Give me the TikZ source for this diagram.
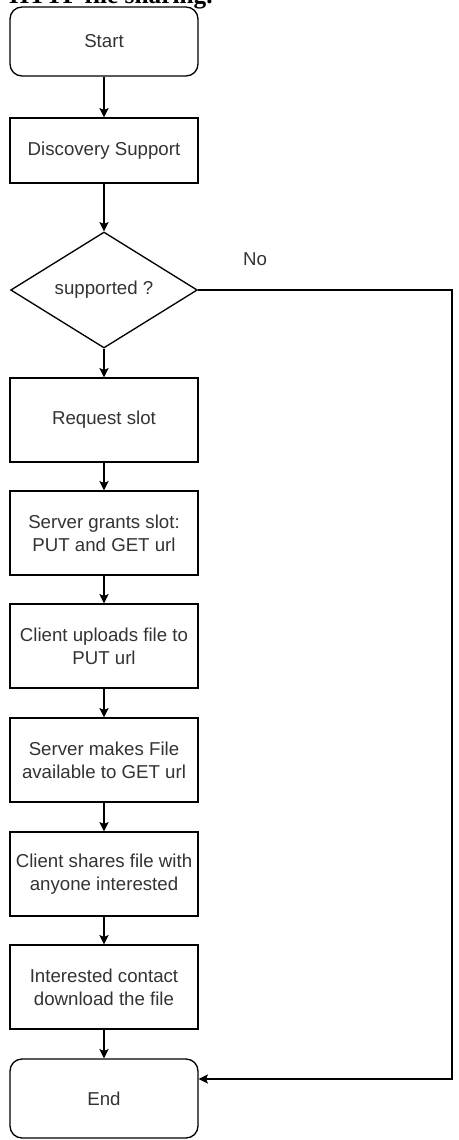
\documentclass[tikz,border=0pt]{standalone}
\usepackage{fontspec}
\setmainfont{Liberation Sans}
\newfontfamily\titlefont{Liberation Serif}
\usetikzlibrary{shapes.geometric,arrows.meta}
\definecolor{txt}{HTML}{333333}
\tikzset{
  flow/.style={draw=black, line width=1pt, fill=white, text=txt,
    font=\fontsize{14}{17}\selectfont, align=center, inner sep=2pt,
    minimum width=141pt},
  procbox/.style={flow, rectangle, minimum height=63pt},
  termbox/.style={flow, rectangle, rounded corners=9pt},
  decbox/.style={flow, diamond, minimum width=140pt, minimum height=85.5pt, inner sep=0pt},
  link/.style={draw=black, line width=1pt, -{Stealth[length=7pt,width=7pt,inset=1.5pt]}},
  plainlink/.style={draw=black, line width=1pt}
}
\begin{document}
\begin{tikzpicture}[x=0.75pt, y=-0.75pt]
\useasboundingbox (0,0) rectangle (458,1140);

% heading line of the surrounding text, cut at the top edge
\node[anchor=base west, inner sep=0pt, font=\titlefont\bfseries\fontsize{19}{22}\selectfont]
  (head) at (9,3.5) {HTTP file sharing.};

% main column
\node[termbox, minimum height=51.75pt] (start) at (104,41.5) {Start};
\node[procbox, minimum height=48.75pt] (disc) at (104,150.5) {Discovery Support};
\node[decbox] (dec) at (104,290) {supported ?};
\node[procbox] (req) at (104,420) {Request slot};
\node[procbox] (grant) at (104,533) {Server grants slot:\\PUT and GET url};
\node[procbox] (upload) at (104,646) {Client uploads file to\\PUT url};
\node[procbox] (avail) at (104,760) {Server makes File\\available to GET url};
\node[procbox] (share) at (104,874) {Client shares file with\\anyone interested};
\node[procbox] (down) at (104,987) {Interested contact\\download the file};
\node[termbox, minimum height=59.25pt] (end) at (104,1098.5) {End};

% label of the "no" branch
\node[text=txt, font=\fontsize{14}{17}\selectfont] (no) at (255,259) {No};

% downward flow
\draw[link] (start) -- (disc);
\draw[link] (disc) -- (dec);
\draw[link] (dec) -- (req);
\draw[link] (req) -- (grant);
\draw[link] (grant) -- (upload);
\draw[link] (upload) -- (avail);
\draw[link] (avail) -- (share);
\draw[link] (share) -- (down);
\draw[link] (down) -- (end);

% "no" branch along the right edge
\coordinate (nr1) at (452,290);
\coordinate (nr2) at (452,1079);
\draw[link] (dec.east) -- (nr1) -- (nr2) -- (nr2 -| end.east);
\end{tikzpicture}
\end{document}
